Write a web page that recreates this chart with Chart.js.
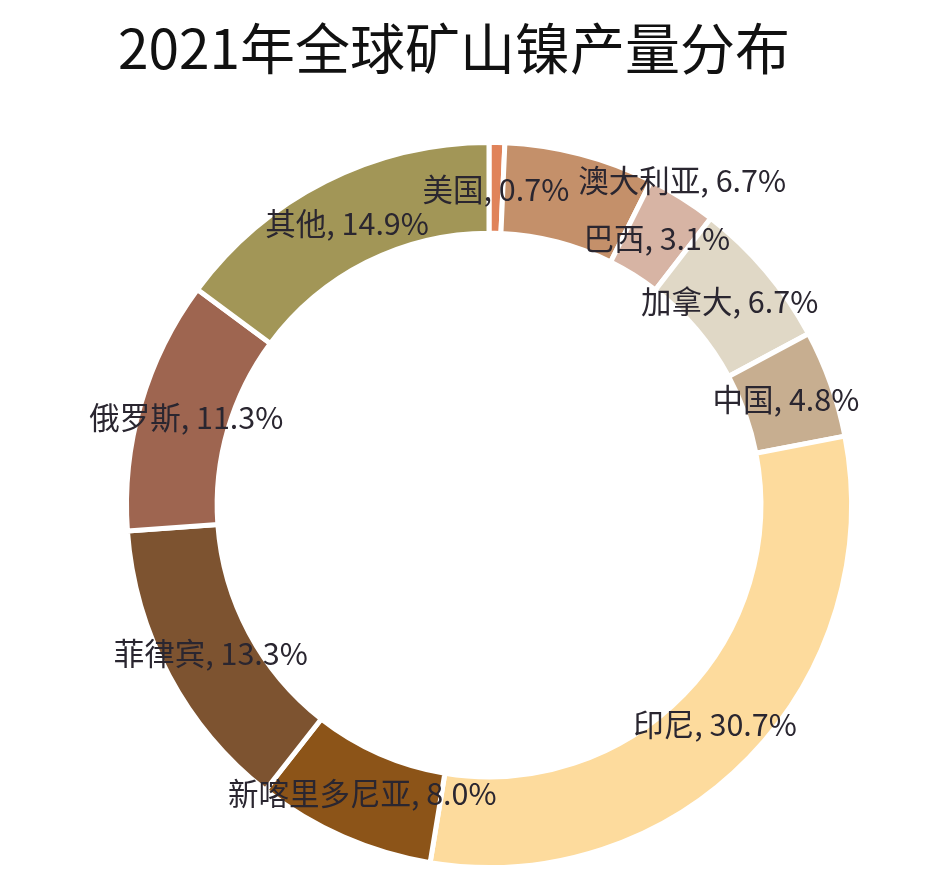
<!DOCTYPE html>
<html>
<head>
<meta charset="utf-8">
<script src="https://cdn.jsdelivr.net/npm/chart.js@4.4.1/dist/chart.umd.min.js"></script>
<style>
  html, body { margin: 0; padding: 0; background: #ffffff; }
  #wrap { width: 944px; height: 890px; }
</style>
</head>
<body>
<div id="wrap"><canvas id="nickel" width="944" height="890"></canvas></div>
<script>
// 2021 global mine nickel output, share by country (%)
const countries = ['美国', '澳大利亚', '巴西', '加拿大', '中国', '印尼', '新喀里多尼亚', '菲律宾', '俄罗斯', '其他'];
const shares = [0.7, 6.7, 3.1, 6.7, 4.8, 30.7, 8.0, 13.3, 11.3, 14.9];
const colors = ['#e0835a', '#c4906a', '#d7b4a4', '#e0d8c6', '#c7ae90', '#fddb9d', '#8c5418', '#7d5330', '#9e6550', '#a29657'];
const chartTitle = '2021年全球矿山镍产量分布';

// draws the title and the "name, x.x%" labels on the ring
const ringLabels = {
    id: 'ringLabels',
    afterDraw(chart) {
        const ctx = chart.ctx;
        ctx.save();
        ctx.fillStyle = '#111111';
        ctx.font = '55px "Noto Sans CJK SC", "Noto Sans", sans-serif';
        ctx.textAlign = 'center';
        ctx.textBaseline = 'middle';
        ctx.fillText(chartTitle, 454, 48);

        ctx.font = '30.5px "Noto Sans CJK SC", "Noto Sans", sans-serif';
        ctx.fillStyle = '#2a2630';
        const meta = chart.getDatasetMeta(0);
        meta.data.forEach((arc, i) => {
            const p = arc.getProps(['x', 'y', 'startAngle', 'endAngle', 'innerRadius', 'outerRadius'], true);
            const mid = (p.startAngle + p.endAngle) / 2;
            const r = (p.innerRadius + p.outerRadius) / 2 - 2;
            let x = p.x + Math.cos(mid) * r;
            let y = p.y + Math.sin(mid) * r;
            // australia label sits out to the right so it does not hit the US one
            if (i === 1) { x += 114; y -= 20; }
            ctx.fillText(countries[i] + ', ' + shares[i].toFixed(1) + '%', x, y);
        });
        ctx.restore();
    }
};

const ctx = document.getElementById('nickel').getContext('2d');
const nickelChart = new Chart(ctx, {
    type: 'doughnut',
    data: {
        labels: countries,
        datasets: [{
            data: shares,
            backgroundColor: colors,
            borderColor: '#ffffff',
            borderWidth: 5,
            hoverOffset: 0
        }]
    },
    options: {
        responsive: false,
        animation: false,
        cutout: '75%',
        layout: {
            padding: { top: 140, bottom: 20, left: 34, right: 0 }
        },
        plugins: {
            legend: { display: false },
            tooltip: { enabled: false },
            title: { display: false }
        }
    },
    plugins: [ringLabels]
});
</script>
</body>
</html>
